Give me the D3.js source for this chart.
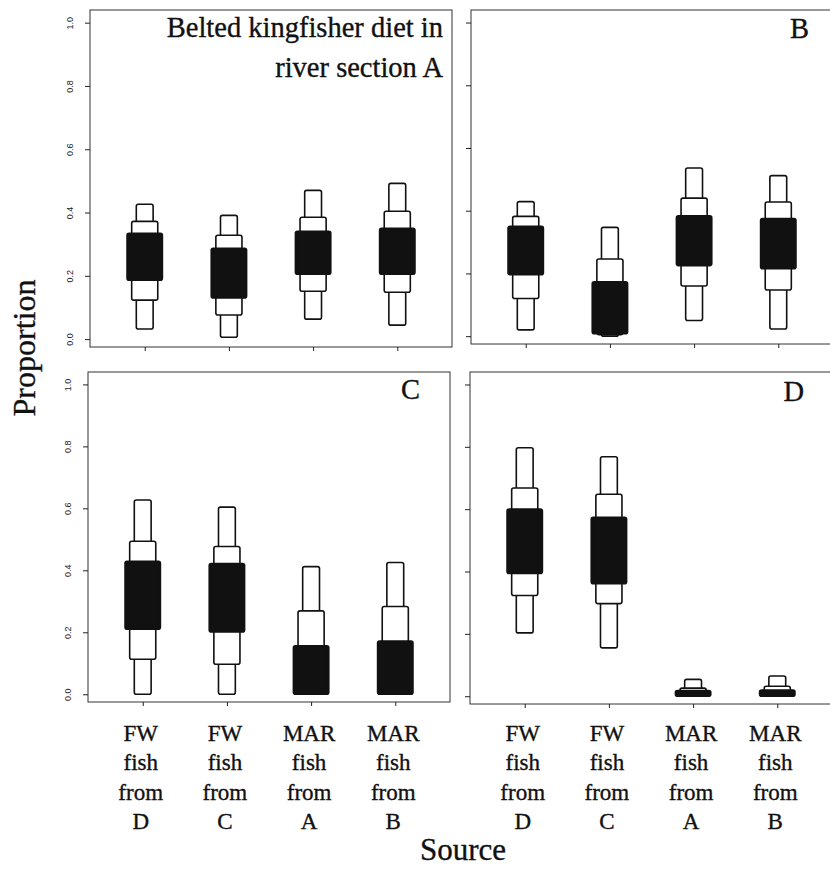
<!DOCTYPE html>
<html>
<head>
<meta charset="utf-8">
<script src="https://cdn.jsdelivr.net/npm/d3@7"></script>
<style>
  body { margin: 0; background: #fff; }
  svg { display: block; }
  .serif { font-family: "Liberation Serif", "Times New Roman", serif; fill: #111; stroke: #111; stroke-width: 0.35px; }
  .tick-label { font-family: "Liberation Sans", Arial, sans-serif; font-size: 9px; fill: #222; }
</style>
</head>
<body>
<div id="chart"></div>
<script>
"use strict";

// ------------------------- Data -------------------------
// each row: [lo95, hi95, lo75, hi75, lo50, hi50]

const sources = [
    ["FW", "fish", "from", "D"],
    ["FW", "fish", "from", "C"],
    ["MAR", "fish", "from", "A"],
    ["MAR", "fish", "from", "B"]
];

const sectionA = [
    [0.032, 0.426, 0.123, 0.372, 0.186, 0.334],
    [0.006, 0.391, 0.076, 0.328, 0.130, 0.287],
    [0.063, 0.470, 0.151, 0.385, 0.205, 0.341],
    [0.044, 0.492, 0.148, 0.404, 0.205, 0.350]
];

const sectionB = [
    [0.020, 0.429, 0.120, 0.382, 0.196, 0.350],
    [0.000, 0.347, 0.005, 0.246, 0.008, 0.173],
    [0.050, 0.536, 0.160, 0.440, 0.225, 0.384],
    [0.023, 0.512, 0.147, 0.428, 0.215, 0.375]
];

const sectionC = [
    [0.000, 0.627, 0.113, 0.494, 0.210, 0.429],
    [0.000, 0.604, 0.097, 0.477, 0.201, 0.422],
    [0.000, 0.412, 0.000, 0.269, 0.000, 0.156],
    [0.000, 0.425, 0.000, 0.283, 0.000, 0.172]
];

const sectionD = [
    [0.203, 0.797, 0.323, 0.668, 0.394, 0.600],
    [0.155, 0.768, 0.297, 0.648, 0.361, 0.574],
    [0.000, 0.054, 0.000, 0.026, 0.000, 0.018],
    [0.000, 0.065, 0.000, 0.032, 0.000, 0.020]
];

const yTicks = [0, 0.2, 0.4, 0.6, 0.8, 1.0];

// ------------------------- Layout -------------------------

const width = 830;
const height = 869;

const panels = [
    { data: sectionA, left: 90, top: 10, w: 362, h: 337, labelled: true,
      title: ["Belted kingfisher diet in", "river section A"], titleX: 443, titleY: 37 },
    { data: sectionB, left: 471, top: 10, w: 362, h: 334, labelled: false,
      title: ["B"], titleX: 809, titleY: 38 },
    { data: sectionC, left: 88, top: 372, w: 362, h: 330, labelled: true,
      title: ["C"], titleX: 420, titleY: 399 },
    { data: sectionD, left: 470, top: 372, w: 362, h: 332, labelled: false,
      title: ["D"], titleX: 804, titleY: 401 }
];

// interval levels, drawn outer first
const levels = [
    { lo: 0, hi: 1, width: 0.20, fill: "#fff" },
    { lo: 2, hi: 3, width: 0.31, fill: "#fff" },
    { lo: 4, hi: 5, width: 0.42, fill: "#111" }
];

const svg = d3.select("#chart")
    .append("svg")
    .attr("width", width)
    .attr("height", height);

panels.forEach(panel => renderPanel(svg, panel));
renderAxisTitles(svg);


// ------------------------- Rendering Helpers -------------------------

function renderPanel(svg, panel) {
    const x = d3.scaleLinear()
        .domain([0.35, 4.65])
        .range([panel.left, panel.left + panel.w]);
    const y = d3.scaleLinear()
        .domain([-0.025, 1.04])
        .range([panel.top + panel.h, panel.top]);

    const g = svg.append("g");

    g.append("rect")
        .attr("x", panel.left)
        .attr("y", panel.top)
        .attr("width", panel.w)
        .attr("height", panel.h)
        .attr("fill", "none")
        .attr("stroke", "#333")
        .attr("stroke-width", 1);

    // left axis
    const yAxis = g.append("g")
        .attr("transform", `translate(${panel.left},0)`)
        .call(d3.axisLeft(y)
            .tickValues(yTicks)
            .tickSize(5)
            .tickFormat(panel.labelled ? d3.format(".1f") : ""));
    yAxis.select(".domain").remove();
    yAxis.selectAll("line").attr("stroke", "#222");
    yAxis.selectAll("text")
        .attr("class", "tick-label")
        .attr("x", 0)
        .attr("dy", 0)
        .attr("text-anchor", "middle")
        .attr("transform", "translate(-17,0) rotate(-90)");

    // bottom axis
    const xAxis = g.append("g")
        .attr("transform", `translate(0,${panel.top + panel.h})`)
        .call(d3.axisBottom(x)
            .tickValues([1, 2, 3, 4])
            .tickSize(4)
            .tickFormat(""));
    xAxis.select(".domain").remove();
    xAxis.selectAll("line").attr("stroke", "#222");

    // credible interval boxes
    levels.forEach(level => {
        const bw = x(level.width) - x(0);
        g.append("g")
            .selectAll("rect")
            .data(panel.data)
            .enter()
            .append("rect")
            .attr("x", (d, i) => x(i + 1) - bw / 2)
            .attr("y", d => y(d[level.hi]))
            .attr("width", bw)
            .attr("height", d => Math.max(y(d[level.lo]) - y(d[level.hi]), 2))
            .attr("rx", 2)
            .attr("fill", level.fill)
            .attr("stroke", "#111")
            .attr("stroke-width", 1.6);
    });

    // panel title
    g.append("g")
        .selectAll("text")
        .data(panel.title)
        .enter()
        .append("text")
        .attr("class", "serif")
        .attr("x", panel.titleX)
        .attr("y", (d, i) => panel.titleY + i * 40)
        .attr("text-anchor", "end")
        .style("font-size", "28.5px")
        .text(d => d);

    // source labels under the panels of the lower row
    if (panel.top > 300) {
        const labels = g.append("g")
            .selectAll("g")
            .data(sources)
            .enter()
            .append("g")
            .attr("transform", (d, i) => `translate(${x(i + 1) - 2},741)`);

        labels.selectAll("text")
            .data(d => d)
            .enter()
            .append("text")
            .attr("class", "serif")
            .attr("y", (d, i) => i * 29.3)
            .attr("text-anchor", "middle")
            .style("font-size", "23px")
            .text(d => d);
    }
}

function renderAxisTitles(svg) {
    svg.append("text")
        .attr("class", "serif")
        .attr("transform", "translate(35,348) rotate(-90)")
        .attr("text-anchor", "middle")
        .style("font-size", "32px")
        .text("Proportion");

    svg.append("text")
        .attr("class", "serif")
        .attr("x", 463)
        .attr("y", 860)
        .attr("text-anchor", "middle")
        .style("font-size", "31px")
        .text("Source");
}
</script>
</body>
</html>
